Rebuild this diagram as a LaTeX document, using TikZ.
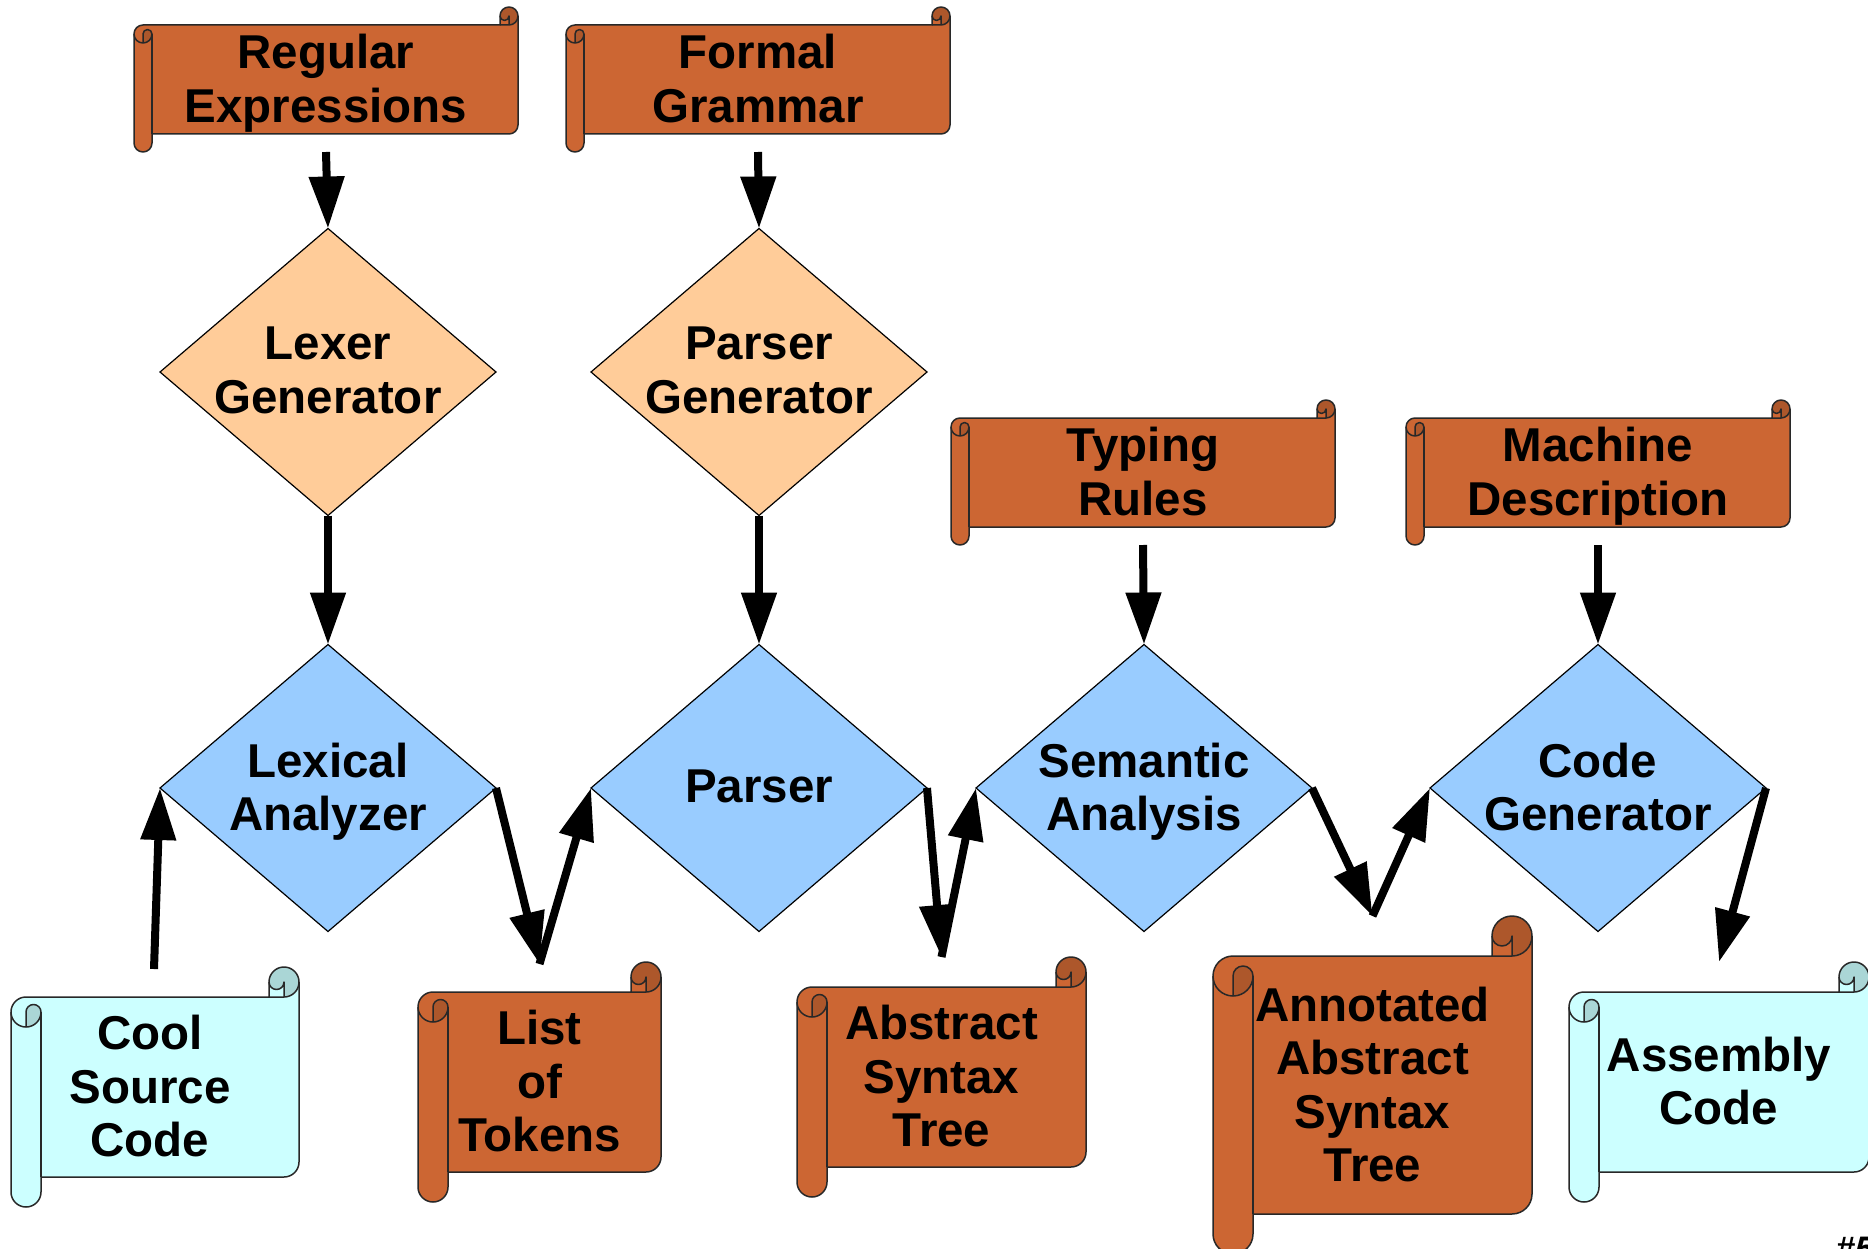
\documentclass[tikz,border=0pt]{standalone}
\usepackage{fontspec}
\setmainfont{Liberation Sans}
\usetikzlibrary{arrows.meta,shapes.geometric}
\definecolor{scrollor}{RGB}{204,102,51}
\definecolor{scrollordk}{RGB}{173,87,43}
\definecolor{scrollcy}{RGB}{204,255,255}
\definecolor{scrollcydk}{RGB}{170,214,214}
\definecolor{peach}{RGB}{255,204,153}
\definecolor{skyblue}{RGB}{153,204,255}
\definecolor{edgegray}{RGB}{40,40,40}
% #1 left, #2 top, #3 width, #4 height, #5 roll size, #6 fill, #7 dark fill, #8 name
\newcommand{\drawscroll}[8]{%
 \begin{scope}[shift={(#1,#2)}]
  \pgfmathsetmacro\scW{#3}%
  \pgfmathsetmacro\scH{#4}%
  \pgfmathsetmacro\scC{#5}%
  \pgfmathsetmacro\scR{#5/2}%
  \pgfmathsetmacro\scQ{#5/4}%
  \fill[#6] (\scW,\scR) arc[start angle=0,delta angle=90,radius=\scR] -- (\scW-\scR,\scR)
    arc[start angle=0,delta angle=180,radius=\scQ] -- (\scW-\scC,\scC) -- (\scR,\scC)
    arc[start angle=270,delta angle=-90,radius=\scR] -- (0,\scH-\scR)
    arc[start angle=180,delta angle=-180,radius=\scR] -- (\scC,\scH-\scC) -- (\scW-\scR,\scH-\scC)
    arc[start angle=90,delta angle=-90,radius=\scR] -- cycle;
  \fill[#7] (\scR,2*\scC) arc[start angle=90,delta angle=-90,radius=\scR]
    arc[start angle=0,delta angle=-180,radius=\scQ] -- cycle;
  \fill[#7] (\scW-\scR,\scC) arc[start angle=90,delta angle=-270,radius=\scR]
    arc[start angle=180,delta angle=-180,radius=\scQ] -- cycle;
  \draw[scrolledge] (0,1.5*\scC) arc[start angle=180,delta angle=90,radius=\scR] -- (\scW-\scC,\scC)
    -- (\scW-\scC,\scR) arc[start angle=180,delta angle=180,radius=\scR] -- (\scW,\scH-1.5*\scC)
    arc[start angle=0,delta angle=90,radius=\scR] -- (\scC,\scH-\scC) -- (\scC,\scH-\scR)
    arc[start angle=0,delta angle=180,radius=\scR] -- cycle;
  \draw[scrolledge] (\scW-\scC,\scC) -- (\scW-\scR,\scC) arc[start angle=90,delta angle=-90,radius=\scR];
  \draw[scrolledge] (\scW-\scR,\scC) -- (\scW-\scR,\scR) arc[start angle=0,delta angle=180,radius=\scQ];
  \draw[scrolledge] (\scR,2*\scC) -- (\scR,1.5*\scC) arc[start angle=180,delta angle=180,radius=\scQ]
    arc[start angle=0,delta angle=180,radius=\scR];
  \draw[scrolledge] (\scC,1.5*\scC) -- (\scC,\scH-\scC);
  \node[inner sep=0pt,outer sep=0pt,minimum width=\scW pt,minimum height=\scH pt] (#8) at (\scW/2,\scH/2) {};
 \end{scope}}
\begin{document}
\begin{tikzpicture}[x=1pt,y=-1pt,
  scrolledge/.style={draw=edgegray,line width=1.5pt,line join=round},
  lbl/.style={font=\fontsize{47.5}{53.5}\selectfont\bfseries,align=center,inner sep=0pt,anchor=north,text=black,yshift=2pt},
  dia/.style={shape=diamond,draw=black,line width=1.2pt,inner sep=0pt,outer sep=0pt,minimum width=336pt,minimum height=287pt},
  gen/.style={dia,fill=peach},
  phase/.style={dia,fill=skyblue},
  arr/.style={line width=8pt,-{Triangle[length=52pt,width=34pt]}}]
\useasboundingbox (0,0) rectangle (1868,1249);
\clip (0,0) rectangle (1868,1249);
\fill[white] (0,0) rectangle (1868,1249);

% scrolls
\drawscroll{134}{7}{384}{145}{18}{scrollor}{scrollordk}{regex}
\drawscroll{566}{7}{384}{145}{18}{scrollor}{scrollordk}{grammar}
\drawscroll{951}{400}{384}{145}{18}{scrollor}{scrollordk}{typing}
\drawscroll{1406}{400}{384}{145}{18}{scrollor}{scrollordk}{machine}
\drawscroll{11}{967}{288}{240}{30}{scrollcy}{scrollcydk}{cool}
\drawscroll{418}{962}{243}{240}{30}{scrollor}{scrollordk}{tokens}
\drawscroll{797}{957}{289}{240}{30}{scrollor}{scrollordk}{ast}
\drawscroll{1213}{916}{319}{338}{40}{scrollor}{scrollordk}{annot}
\drawscroll{1569}{962}{300}{240}{30}{scrollcy}{scrollcydk}{asm}

\node[lbl] (regex-t) at (326,36.2) {Regular\\Expressions};
\node[lbl] (grammar-t) at (758,36.2) {Formal\\Grammar};
\node[lbl] (typing-t) at (1143,429.2) {Typing\\Rules};
\node[lbl] (machine-t) at (1598,429.2) {Machine\\Description};
\node[lbl] (cool-t) at (150,1017.2) {Cool\\Source\\Code};
\node[lbl] (tokens-t) at (539.5,1012.2) {List\\of\\Tokens};
\node[lbl] (ast-t) at (941.5,1007.2) {Abstract\\Syntax\\Tree};
\node[lbl] (annot-t) at (1372.5,988.7) {Annotated\\Abstract\\Syntax\\Tree};
\node[lbl] (asm-t) at (1719,1038.7) {Assembly\\Code};

% diamonds
\node[gen] (lexgen) at (328,372) {};
\node[gen] (pargen) at (759,372) {};
\node[phase] (lexan) at (328,788) {};
\node[phase] (parser) at (759,788) {};
\node[phase] (sem) at (1144,788) {};
\node[phase] (codegen) at (1598,788) {};

\node[lbl] (lexgen-t) at (328,328.7) {Lexer\\Generator};
\node[lbl] (pargen-t) at (759,328.7) {Parser\\Generator};
\node[lbl] (lexan-t) at (328,744.7) {Lexical\\Analyzer};
\node[lbl] (parser-t) at (759,771.2) {Parser};
\node[lbl] (sem-t) at (1144,744.7) {Semantic\\Analysis};
\node[lbl] (codegen-t) at (1598,744.7) {Code\\Generator};

% arrows
\draw[arr] (regex.south) -- (lexgen.north);
\draw[arr] (grammar.south) -- (pargen.north);
\draw[arr] (lexgen.south) -- (lexan.north);
\draw[arr] (pargen.south) -- (parser.north);
\draw[arr] (typing.south) -- (sem.north);
\draw[arr] (machine.south) -- (codegen.north);
\draw[arr] ([xshift=-1pt,yshift=-2pt]cool.north) -- (lexan.west);
\draw[arr] (lexan.east) -- ([yshift=-2pt]tokens.north);
\draw[arr] ([yshift=-2pt]tokens.north) -- (parser.west);
\draw[arr] (parser.east) -- (ast.north);
\draw[arr] (ast.north) -- (sem.west);
\draw[arr] (sem.east) -- (annot.north);
\draw[arr] (annot.north) -- (codegen.west);
\draw[arr] (codegen.east) -- (asm.north);

\node[font=\fontsize{34}{40}\selectfont\bfseries\itshape,anchor=north west,inner sep=0pt] (slidenum) at (1836,1237) {\#5};
\end{tikzpicture}
\end{document}
